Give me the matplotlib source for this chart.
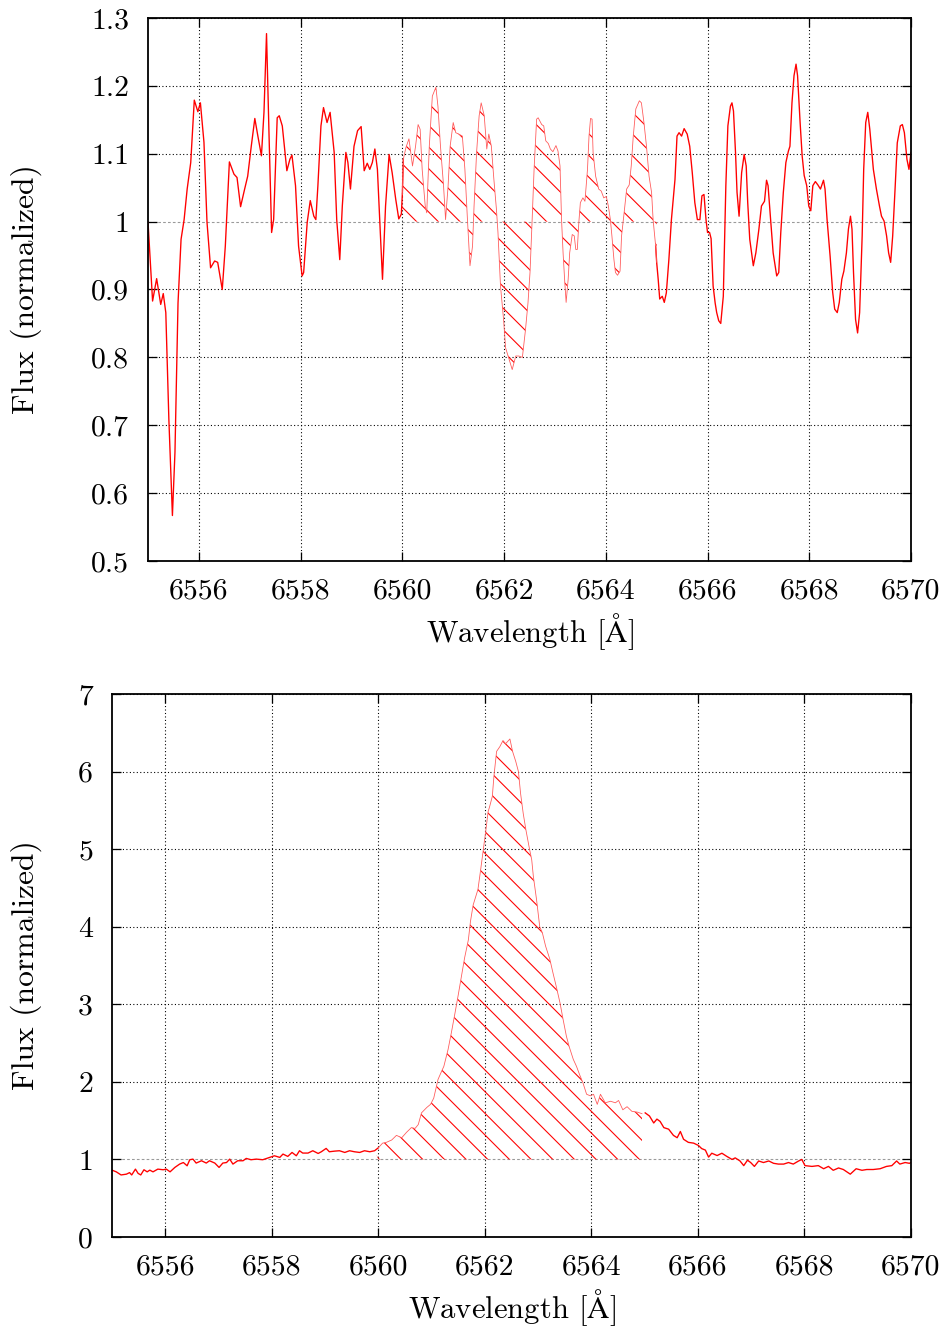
import numpy as np
import matplotlib
matplotlib.use("Agg")
import matplotlib.pyplot as plt

# ---------------------------------------------------------------- data
# Upper panel: normalized flux around H-alpha (absorption-dominated profile)
wave_top = [
    6555.00, 6555.09, 6555.17, 6555.25, 6555.30, 6555.35, 6555.41, 6555.48, 6555.53, 6555.59,
    6555.65, 6555.71, 6555.77, 6555.84, 6555.91, 6555.98, 6556.03, 6556.10, 6556.16, 6556.23,
    6556.31, 6556.37, 6556.46, 6556.52, 6556.60, 6556.69, 6556.75, 6556.82, 6556.90, 6556.96,
    6557.03, 6557.10, 6557.16, 6557.23, 6557.28, 6557.33, 6557.38, 6557.43, 6557.47, 6557.54,
    6557.58, 6557.64, 6557.73, 6557.79, 6557.83, 6557.90, 6557.96, 6558.03, 6558.06, 6558.13,
    6558.19, 6558.26, 6558.30, 6558.34, 6558.40, 6558.45, 6558.52, 6558.58, 6558.66, 6558.71,
    6558.77, 6558.82, 6558.89, 6558.93, 6558.98, 6559.05, 6559.12, 6559.19, 6559.25, 6559.31,
    6559.36, 6559.41, 6559.46, 6559.51, 6559.57, 6559.61, 6559.67, 6559.74, 6559.80, 6559.87,
    6559.93, 6559.98, 6560.00, 6560.02, 6560.07, 6560.13, 6560.20, 6560.26, 6560.31, 6560.35,
    6560.39, 6560.45, 6560.48, 6560.53, 6560.59, 6560.66, 6560.70, 6560.75, 6560.81, 6560.85,
    6560.90, 6560.94, 6561.00, 6561.05, 6561.11, 6561.18, 6561.23, 6561.28, 6561.33, 6561.38,
    6561.41, 6561.46, 6561.51, 6561.55, 6561.61, 6561.66, 6561.70, 6561.75, 6561.80, 6561.85,
    6561.88, 6561.93, 6561.99, 6562.03, 6562.10, 6562.16, 6562.23, 6562.29, 6562.36, 6562.42,
    6562.47, 6562.51, 6562.55, 6562.59, 6562.64, 6562.67, 6562.74, 6562.78, 6562.82, 6562.87,
    6562.91, 6562.96, 6563.02, 6563.06, 6563.10, 6563.13, 6563.16, 6563.19, 6563.22, 6563.26,
    6563.29, 6563.34, 6563.38, 6563.41, 6563.44, 6563.47, 6563.50, 6563.55, 6563.59, 6563.64,
    6563.67, 6563.70, 6563.73, 6563.75, 6563.80, 6563.86, 6563.91, 6563.96, 6564.01, 6564.05,
    6564.09, 6564.12, 6564.16, 6564.19, 6564.23, 6564.28, 6564.31, 6564.36, 6564.41, 6564.46,
    6564.50, 6564.54, 6564.59, 6564.66, 6564.70, 6564.75, 6564.80, 6564.85, 6564.90, 6564.93,
    6564.98, 6565.00, 6565.03, 6565.06, 6565.11, 6565.15, 6565.19, 6565.24, 6565.29, 6565.36,
    6565.40, 6565.44, 6565.49, 6565.54, 6565.60, 6565.65, 6565.70, 6565.75, 6565.80, 6565.85,
    6565.89, 6565.93, 6565.97, 6566.00, 6566.04, 6566.07, 6566.11, 6566.15, 6566.18, 6566.22,
    6566.26, 6566.31, 6566.36, 6566.40, 6566.45, 6566.48, 6566.51, 6566.55, 6566.58, 6566.62,
    6566.67, 6566.72, 6566.76, 6566.79, 6566.83, 6566.90, 6566.95, 6567.01, 6567.06, 6567.12,
    6567.16, 6567.19, 6567.24, 6567.29, 6567.36, 6567.40, 6567.44, 6567.49, 6567.54, 6567.59,
    6567.62, 6567.66, 6567.70, 6567.74, 6567.77, 6567.82, 6567.86, 6567.90, 6567.95, 6567.99,
    6568.03, 6568.07, 6568.12, 6568.17, 6568.22, 6568.28, 6568.31, 6568.35, 6568.41, 6568.46,
    6568.50, 6568.55, 6568.59, 6568.64, 6568.68, 6568.73, 6568.77, 6568.81, 6568.84, 6568.87,
    6568.91, 6568.95, 6568.99, 6569.04, 6569.07, 6569.11, 6569.15, 6569.19, 6569.26, 6569.32,
    6569.38, 6569.42, 6569.47, 6569.52, 6569.56, 6569.60, 6569.64, 6569.69, 6569.73, 6569.79,
    6569.83, 6569.87, 6569.92, 6569.96, 6570.00,
]
flux_top = [
    1.000, 0.883, 0.916, 0.878, 0.894, 0.866, 0.709, 0.567, 0.660, 0.880,
    0.974, 1.003, 1.048, 1.087, 1.179, 1.162, 1.175, 1.117, 0.999, 0.932,
    0.942, 0.940, 0.900, 0.964, 1.088, 1.070, 1.065, 1.022, 1.048, 1.067,
    1.111, 1.152, 1.126, 1.097, 1.161, 1.277, 1.126, 0.984, 1.003, 1.153,
    1.156, 1.141, 1.075, 1.092, 1.098, 1.053, 0.964, 0.920, 0.925, 0.999,
    1.031, 1.008, 1.003, 1.053, 1.141, 1.168, 1.146, 1.161, 1.102, 1.003,
    0.944, 1.023, 1.102, 1.087, 1.048, 1.111, 1.134, 1.140, 1.075, 1.086,
    1.077, 1.087, 1.107, 1.077, 0.979, 0.915, 1.023, 1.099, 1.072, 1.033,
    1.004, 1.011, 1.040, 1.092, 1.109, 1.122, 1.082, 1.111, 1.143, 1.136,
    1.077, 1.023, 1.013, 1.111, 1.185, 1.198, 1.170, 1.111, 1.053, 1.003,
    1.053, 1.111, 1.146, 1.131, 1.129, 1.126, 1.077, 1.003, 0.935, 0.964,
    1.023, 1.102, 1.156, 1.175, 1.156, 1.107, 1.129, 1.111, 1.062, 1.018,
    0.984, 0.905, 0.856, 0.814, 0.797, 0.782, 0.802, 0.802, 0.800, 0.840,
    0.880, 0.925, 0.999, 1.077, 1.151, 1.153, 1.143, 1.141, 1.119, 1.115,
    1.107, 1.103, 1.112, 1.104, 1.082, 1.003, 0.954, 0.915, 0.881, 0.915,
    0.954, 0.981, 0.979, 0.959, 0.959, 0.999, 1.028, 1.035, 1.030, 1.077,
    1.126, 1.152, 1.151, 1.102, 1.067, 1.048, 1.045, 1.035, 1.037, 1.023,
    1.003, 0.979, 0.944, 0.925, 0.921, 0.927, 0.979, 1.013, 1.048, 1.054,
    1.082, 1.126, 1.166, 1.178, 1.175, 1.146, 1.111, 1.067, 1.043, 1.003,
    0.964, 0.940, 0.915, 0.886, 0.890, 0.881, 0.895, 0.944, 1.003, 1.062,
    1.126, 1.131, 1.126, 1.137, 1.129, 1.111, 1.072, 1.028, 1.003, 1.003,
    1.038, 1.040, 1.003, 0.984, 0.984, 0.975, 0.905, 0.880, 0.866, 0.854,
    0.850, 0.890, 1.053, 1.141, 1.170, 1.175, 1.163, 1.102, 1.043, 1.008,
    1.072, 1.099, 1.082, 1.028, 0.974, 0.935, 0.954, 0.989, 1.023, 1.030,
    1.061, 1.053, 1.003, 0.954, 0.920, 0.925, 0.984, 1.043, 1.087, 1.104,
    1.111, 1.175, 1.215, 1.232, 1.215, 1.146, 1.097, 1.068, 1.053, 1.023,
    1.016, 1.053, 1.059, 1.054, 1.048, 1.061, 1.048, 1.003, 0.949, 0.896,
    0.871, 0.866, 0.881, 0.915, 0.927, 0.954, 0.989, 1.008, 0.989, 0.925,
    0.856, 0.836, 0.866, 0.979, 1.077, 1.146, 1.161, 1.136, 1.077, 1.048,
    1.023, 1.008, 1.001, 0.979, 0.954, 0.940, 0.979, 1.053, 1.116, 1.141,
    1.143, 1.131, 1.092, 1.077, 1.102,
]

# Lower panel: normalized flux with strong H-alpha emission
wave_bot = [
    6555.00, 6555.08, 6555.17, 6555.27, 6555.33, 6555.37, 6555.44, 6555.49, 6555.54, 6555.60,
    6555.66, 6555.71, 6555.77, 6555.86, 6555.96, 6556.02, 6556.09, 6556.18, 6556.27, 6556.34,
    6556.41, 6556.46, 6556.52, 6556.58, 6556.68, 6556.77, 6556.83, 6556.93, 6557.01, 6557.08,
    6557.15, 6557.21, 6557.27, 6557.36, 6557.46, 6557.52, 6557.61, 6557.71, 6557.83, 6557.96,
    6558.05, 6558.15, 6558.21, 6558.30, 6558.38, 6558.46, 6558.52, 6558.58, 6558.68, 6558.77,
    6558.87, 6558.93, 6559.02, 6559.08, 6559.18, 6559.27, 6559.37, 6559.46, 6559.55, 6559.65,
    6559.74, 6559.84, 6559.93, 6560.00, 6560.08, 6560.15, 6560.25, 6560.34, 6560.44, 6560.53,
    6560.62, 6560.69, 6560.75, 6560.81, 6560.91, 6560.98, 6561.04, 6561.12, 6561.19, 6561.23,
    6561.31, 6561.37, 6561.44, 6561.50, 6561.56, 6561.62, 6561.69, 6561.73, 6561.78, 6561.87,
    6561.92, 6561.97, 6562.02, 6562.06, 6562.09, 6562.14, 6562.17, 6562.22, 6562.28, 6562.34,
    6562.39, 6562.43, 6562.47, 6562.52, 6562.58, 6562.63, 6562.67, 6562.72, 6562.77, 6562.83,
    6562.88, 6562.91, 6562.97, 6563.03, 6563.08, 6563.14, 6563.22, 6563.28, 6563.34, 6563.41,
    6563.47, 6563.53, 6563.58, 6563.66, 6563.72, 6563.78, 6563.84, 6563.91, 6563.98, 6564.04,
    6564.11, 6564.17, 6564.26, 6564.36, 6564.45, 6564.51, 6564.59, 6564.67, 6564.76, 6564.86,
    6564.95, 6565.01, 6565.09, 6565.17, 6565.23, 6565.29, 6565.36, 6565.45, 6565.54, 6565.61,
    6565.67, 6565.73, 6565.82, 6565.92, 6566.01, 6566.07, 6566.14, 6566.20, 6566.26, 6566.36,
    6566.45, 6566.54, 6566.64, 6566.70, 6566.79, 6566.86, 6566.93, 6566.99, 6567.06, 6567.14,
    6567.23, 6567.33, 6567.42, 6567.51, 6567.61, 6567.70, 6567.79, 6567.89, 6567.95, 6568.01,
    6568.14, 6568.26, 6568.36, 6568.45, 6568.54, 6568.64, 6568.73, 6568.86, 6568.97, 6569.08,
    6569.17, 6569.29, 6569.42, 6569.54, 6569.64, 6569.73, 6569.79, 6569.89, 6569.97, 6570.00,
]
flux_bot = [
    0.862, 0.840, 0.800, 0.810, 0.830, 0.800, 0.875, 0.820, 0.800, 0.867,
    0.840, 0.862, 0.840, 0.875, 0.867, 0.875, 0.840, 0.897, 0.940, 0.960,
    0.918, 0.996, 1.004, 0.953, 0.983, 0.953, 0.983, 0.953, 0.897, 0.953,
    0.960, 1.004, 0.940, 0.983, 0.983, 1.013, 0.996, 1.004, 0.996, 1.026,
    1.047, 1.026, 1.069, 1.039, 1.090, 1.047, 1.112, 1.082, 1.082, 1.112,
    1.077, 1.099, 1.142, 1.099, 1.107, 1.112, 1.090, 1.112, 1.099, 1.090,
    1.112, 1.099, 1.112, 1.150, 1.210, 1.220, 1.250, 1.310, 1.280, 1.350,
    1.410, 1.400, 1.450, 1.600, 1.670, 1.710, 1.790, 2.030, 2.140, 2.200,
    2.420, 2.630, 2.890, 3.120, 3.360, 3.600, 3.830, 4.070, 4.280, 4.480,
    4.730, 4.990, 5.250, 5.480, 5.550, 5.680, 5.940, 6.260, 6.320, 6.400,
    6.360, 6.390, 6.420, 6.260, 6.130, 6.000, 5.720, 5.460, 5.250, 5.030,
    4.860, 4.650, 4.350, 4.000, 3.920, 3.750, 3.580, 3.400, 3.230, 3.020,
    2.800, 2.590, 2.460, 2.290, 2.200, 2.090, 1.990, 1.840, 1.820, 1.840,
    1.710, 1.840, 1.730, 1.750, 1.730, 1.760, 1.640, 1.680, 1.620, 1.610,
    1.590, 1.600, 1.560, 1.470, 1.520, 1.490, 1.410, 1.390, 1.310, 1.280,
    1.360, 1.260, 1.220, 1.210, 1.180, 1.140, 1.120, 1.030, 1.080, 1.050,
    1.080, 1.040, 1.000, 1.020, 0.980, 0.920, 0.990, 0.960, 0.910, 0.980,
    0.960, 0.980, 0.950, 0.940, 0.940, 0.960, 0.940, 0.980, 1.000, 0.920,
    0.910, 0.920, 0.880, 0.910, 0.860, 0.890, 0.870, 0.810, 0.880, 0.860,
    0.870, 0.870, 0.880, 0.910, 0.920, 0.980, 0.940, 0.960, 0.950, 0.960,
]

# integration window shaded between the spectrum and the continuum
window = (6560.0, 6565.0)
continuum = 1.0

x_ticks = [6556, 6558, 6560, 6562, 6564, 6566, 6568, 6570]
x_tick_labels = ["6556", "6558", "6560", "6562", "6564", "6566", "6568", "6570"]
y_ticks_top = [0.5, 0.6, 0.7, 0.8, 0.9, 1.0, 1.1, 1.2, 1.3]
y_tick_labels_top = ["0.5", "0.6", "0.7", "0.8", "0.9", "1", "1.1", "1.2", "1.3"]
y_ticks_bot = [0, 1, 2, 3, 4, 5, 6, 7]
y_tick_labels_bot = ["0", "1", "2", "3", "4", "5", "6", "7"]

# ---------------------------------------------------------------- style
DPI = 130
plt.rcParams.update({
    "font.family": "cmr10",
    "mathtext.fontset": "cm",
    "axes.formatter.use_mathtext": True,
    "font.size": 16,
    "hatch.linewidth": 0.6,
    "hatch.color": "red",
})

fig = plt.figure(figsize=(949 / DPI, 1329 / DPI), dpi=DPI)
W, H = 949.0, 1329.0
ax_top = fig.add_axes([148 / W, 1 - 561 / H, (911 - 148) / W, (561 - 18) / H])
ax_bot = fig.add_axes([112 / W, 1 - 1237 / H, (911 - 112) / W, (1237 - 694) / H])


def draw_panel(ax, wave, flux, yticks, ylabels, ylim, ylabel_x):
    wave = np.asarray(wave)
    flux = np.asarray(flux)

    # grid (continuum level drawn as a lighter dashed line)
    for xv in x_ticks:
        ax.axvline(xv, color="black", lw=0.6, ls=(0, (1, 2.2)), zorder=0)
    for yv in yticks:
        if np.isclose(yv, continuum):
            ax.axhline(yv, color="#9a9a9a", lw=0.6, ls=(0, (2.5, 2)), zorder=0)
        else:
            ax.axhline(yv, color="black", lw=0.6, ls=(0, (1, 2.2)), zorder=0)

    inside = (wave >= window[0]) & (wave <= window[1])
    ax.fill_between(wave, flux, continuum, where=inside, interpolate=True,
                    facecolor="none", edgecolor="red", hatch="\\\\", linewidth=0,
                    zorder=1)

    left = wave <= window[0] + 0.02
    right = wave >= window[1] - 0.02
    ax.plot(wave[left], flux[left], color="red", lw=0.75, zorder=2)
    ax.plot(wave[right], flux[right], color="red", lw=0.75, zorder=2)
    ax.plot(wave[inside], flux[inside], color="#ff5a5a", lw=0.45, zorder=2)

    ax.set_xlim(6555, 6570)
    ax.set_ylim(*ylim)
    ax.set_xticks(x_ticks)
    ax.set_xticklabels(x_tick_labels)
    ax.set_yticks(yticks)
    ax.set_yticklabels(ylabels)
    ax.tick_params(direction="in", top=True, right=True, length=5, width=0.7,
                   labelsize=16.5)
    ax.tick_params(axis="x", pad=9.5)
    ax.tick_params(axis="y", pad=10.5)
    for s in ax.spines.values():
        s.set_linewidth(1.0)

    ax.set_xlabel(r"Wavelength [$\mathrm{\AA}$]", fontsize=17)
    ax.set_ylabel("Flux (normalized)", fontsize=17.5)
    ax.xaxis.set_label_coords(0.5, -0.092)
    ax.yaxis.set_label_coords(ylabel_x, 0.5)


draw_panel(ax_top, wave_top, flux_top, y_ticks_top, y_tick_labels_top,
           (0.5, 1.3), -0.139)
draw_panel(ax_bot, wave_bot, flux_bot, y_ticks_bot, y_tick_labels_bot,
           (0, 7), -0.0876)

fig.savefig("out.png", dpi=DPI)
